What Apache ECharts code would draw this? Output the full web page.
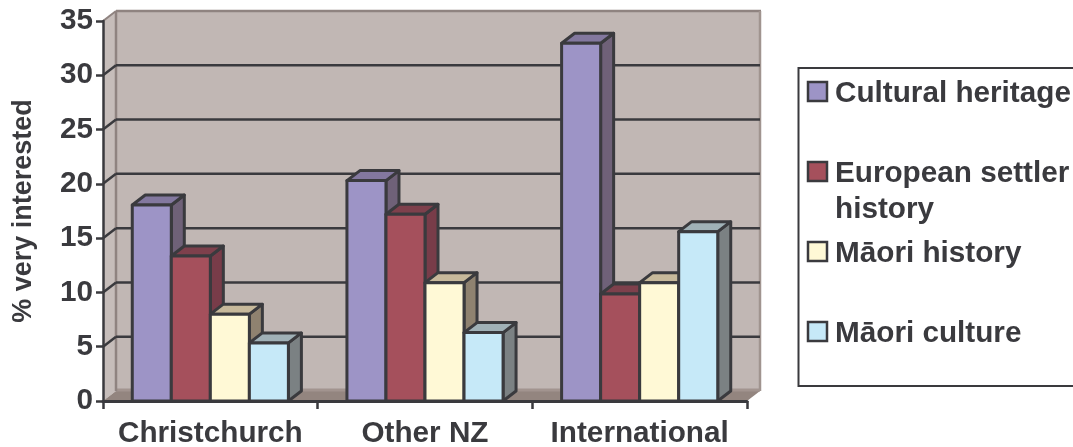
<!DOCTYPE html>
<html>
<head>
<meta charset="utf-8">
<style>html,body{margin:0;padding:0;background:#fff}#chart{width:1073px;height:447px}</style>
<script src="https://cdn.jsdelivr.net/npm/echarts@6/dist/echarts.min.js"></script>
</head>
<body>
<div id="chart"></div>
<script>
// Interest in heritage topics by visitor origin
const categories = ['Christchurch', 'Other NZ', 'International'];
const yTicks = [0, 5, 10, 15, 20, 25, 30, 35];
const culturalHeritage = [18.05, 20.3, 32.95];
const europeanSettler = [13.35, 17.2, 9.85];
const maoriHistory = [8.0, 10.9, 10.9];
const maoriCulture = [5.35, 6.3, 15.6];
const seriesNames = ['Cultural heritage', 'European settler history', 'M\u0101ori history', 'M\u0101ori culture'];
const legendLines = ['Cultural heritage', 'European settler\nhistory', 'M\u0101ori history', 'M\u0101ori culture'];

const seriesValues = [culturalHeritage, europeanSettler, maoriHistory, maoriCulture];
const faceColors = [
  { front: '#9d94c6', top: '#83789f', side: '#6f6178' },
  { front: '#a5505c', top: '#7e404c', side: '#783c49' },
  { front: '#fff9d6', top: '#c7b99b', side: '#8f8270' },
  { front: '#c6e9f8', top: '#a0b1b7', side: '#7b8183' }
];

const INK = '#3a3a3e';
const DX = 13, DY = 10;          // oblique depth of the plot box and bars
const GROUP_SLOTS = 5.5;         // category width expressed in bar widths

const chart = echarts.init(document.getElementById('chart'), null, { renderer: 'canvas' });

function poly(points, fill, stroke, lineWidth) {
  return {
    type: 'polygon',
    shape: { points },
    style: { fill, stroke: stroke || null, lineWidth: lineWidth || 0, lineJoin: 'round' }
  };
}
function seg(x1, y1, x2, y2, stroke, lineWidth) {
  return { type: 'line', shape: { x1, y1, x2, y2 }, style: { stroke, lineWidth } };
}

// Side wall, back wall and floor of the oblique plot box
function renderWalls(params) {
  const r = params.coordSys;
  const L = r.x, R = r.x + r.width, T = r.y, B = r.y + r.height;
  return {
    type: 'group',
    children: [
      poly([[L + DX, T - DY], [R + DX, T - DY], [R + DX, B - DY], [L + DX, B - DY]], '#c1b7b4'),
      poly([[L, B], [L + DX, B - DY], [L + DX, T - DY], [L, T]], '#c6bdba'),
      poly([[L, B], [L + DX, B - DY], [R + DX, B - DY], [R, B]], '#93857f'),
      seg(L + DX, B - DY - 1, R + DX, B - DY - 1, '#a2948f', 3),
      seg(L + DX, T - DY, R + DX + 1, T - DY, '#8f8380', 2.5),
      seg(L + DX, T - DY, L + DX, B - DY, '#8f8380', 2.5),
      seg(R + DX, T - DY, R + DX, B - DY, '#a0948f', 2.5),
      seg(L, T, L + DX, T - DY, '#8f8380', 2)
    ]
  };
}

// One gridline per tick: across the back wall and down the side wall
function renderGridLine(params, api) {
  const r = params.coordSys;
  const y = api.coord([0, api.value(1)])[1];
  const v = api.value(1);
  if (v === 0 || v === 35) return { type: 'group', children: [] };
  return {
    type: 'group',
    children: [
      seg(r.x + DX, y - DY, r.x + r.width + DX, y - DY, INK, 2.5),
      seg(r.x, y, r.x + DX, y - DY, INK, 2.5)
    ]
  };
}

// A bar with front, top and side faces
function makeBarRenderer(seriesIndex) {
  const c = faceColors[seriesIndex];
  return function (params, api) {
    const cat = api.value(0);
    const top = api.coord([cat, api.value(1)]);
    const base = api.coord([cat, 0]);
    const w = api.size([1, 0])[0] / GROUP_SLOTS;
    const x0 = top[0] + (seriesIndex - 2) * w;
    const x1 = x0 + w;
    const yt = top[1], yb = base[1];
    return {
      type: 'group',
      children: [
        poly([[x1, yb], [x1 + DX, yb - DY], [x1 + DX, yt - DY], [x1, yt]], c.side, INK, 3),
        poly([[x0, yt], [x0 + DX, yt - DY], [x1 + DX, yt - DY], [x1, yt]], c.top, INK, 3),
        poly([[x0, yt], [x1, yt], [x1, yb], [x0, yb]], c.front, INK, 3)
      ]
    };
  };
}

const textStyle = { fontFamily: '"Liberation Sans", Arial, sans-serif', fontWeight: 'bold', color: INK };

const legendGraphic = [{
  type: 'rect',
  shape: { x: 798.5, y: 68, width: 300, height: 318 },
  style: { fill: '#fff', stroke: INK, lineWidth: 2 }
}];
seriesNames.forEach(function (name, i) {
  const cy = 92 + i * 80;
  legendGraphic.push({
    type: 'rect',
    shape: { x: 808, y: cy - 10, width: 19, height: 19 },
    style: { fill: faceColors[i].front, stroke: INK, lineWidth: 2.5 }
  });
  legendGraphic.push({
    type: 'text',
    x: 835, y: cy - 16,
    style: {
      text: legendLines[i],
      fill: INK,
      font: 'bold 29.7px "Liberation Sans", Arial, sans-serif',
      lineHeight: 36,
      verticalAlign: 'top'
    }
  });
});

const barSeries = seriesValues.map(function (values, i) {
  return {
    type: 'custom',
    name: seriesNames[i],
    coordinateSystem: 'cartesian2d',
    z: 3,
    clip: false,
    renderItem: makeBarRenderer(i),
    encode: { x: 0, y: 1 },
    data: values.map(function (v, k) { return [k, v]; })
  };
});

chart.setOption({
  animation: false,
  backgroundColor: '#fff',
  grid: { left: 103, right: 326, top: 21, bottom: 46, containLabel: false, outerBoundsMode: 'none' },
  xAxis: {
    type: 'category',
    data: categories,
    z: 5,
    boundaryGap: true,
    axisLine: { lineStyle: { color: INK, width: 3 } },
    axisTick: { show: true, length: 8, alignWithLabel: false, lineStyle: { color: INK, width: 2.5 } },
    axisLabel: Object.assign({ fontSize: 29.7, margin: 18, interval: 0 }, textStyle),
    splitLine: { show: false }
  },
  yAxis: {
    type: 'value',
    min: 0,
    max: 35,
    interval: 5,
    z: 5,
    name: '% very interested',
    nameLocation: 'middle',
    nameGap: 66,
    nameRotate: 90,
    nameTextStyle: Object.assign({ fontSize: 27 }, textStyle),
    axisLine: { show: true, lineStyle: { color: INK, width: 2.5 } },
    axisTick: { show: true, length: 7, lineStyle: { color: INK, width: 2.5 } },
    axisLabel: Object.assign({ fontSize: 29.7, margin: 10 }, textStyle),
    splitLine: { show: false }
  },
  graphic: legendGraphic,
  series: [
    {
      type: 'custom',
      coordinateSystem: 'cartesian2d',
      z: 1,
      clip: false,
      silent: true,
      renderItem: renderWalls,
      data: [[0, 0]]
    },
    {
      type: 'custom',
      coordinateSystem: 'cartesian2d',
      z: 2,
      clip: false,
      silent: true,
      renderItem: renderGridLine,
      encode: { x: 0, y: 1 },
      data: yTicks.map(function (t) { return [0, t]; })
    }
  ].concat(barSeries)
});
</script>
</body>
</html>
